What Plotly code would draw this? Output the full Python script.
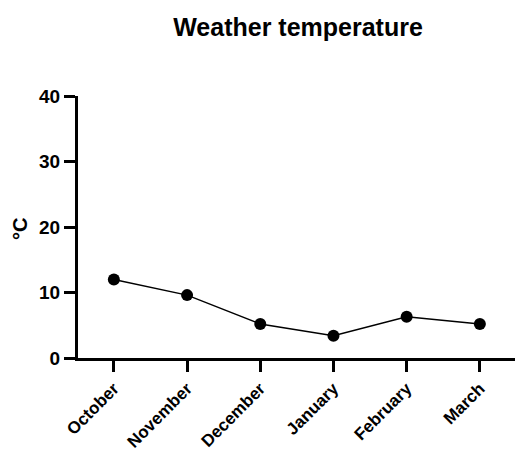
import plotly.graph_objects as go

months = ["October", "November", "December", "January", "February", "March"]
temps = [12.0, 9.6, 5.2, 3.4, 6.3, 5.2]
y_ticks = [0, 10, 20, 30, 40]

FONT = "Liberation Sans, Arial, sans-serif"
W, H = 515, 453
L, R, T, B = 78, 0, 96, 95

fig = go.Figure()
fig.add_trace(go.Scatter(
    x=list(range(len(months))), y=temps, mode="lines+markers",
    line=dict(color="black", width=1.5),
    marker=dict(color="black", size=12),
    showlegend=False, cliponaxis=False,
))

fig.update_layout(
    width=W, height=H,
    margin=dict(l=L, r=R, t=T, b=B, autoexpand=False),
    paper_bgcolor="white", plot_bgcolor="white",
    title=dict(text="Weather temperature", x=298 / W, xanchor="center",
               y=1 - 27 / H, yanchor="middle",
               font=dict(family=FONT, size=25, color="black", weight="bold")),
    font=dict(family=FONT, color="black"),
)
fig.update_xaxes(
    range=[-0.49, 5.48], tickmode="array", tickvals=list(range(len(months))), ticktext=months,
    tickangle=-45, ticks="outside", ticklen=11, tickwidth=3, tickcolor="black",
    showline=True, linewidth=3, linecolor="black", showgrid=False, zeroline=False,
    tickfont=dict(family=FONT, size=17, color="black", weight="bold"),
)
fig.update_yaxes(
    range=[0, 40], tickmode="array", tickvals=y_ticks, ticktext=[str(v) for v in y_ticks],
    ticks="outside", ticklen=11, tickwidth=3, tickcolor="black",
    showline=True, linewidth=3, linecolor="black", showgrid=False, zeroline=False,
    tickfont=dict(family=FONT, size=19, color="black", weight="bold"),
)
fig.add_annotation(
    text="°C", xref="paper", yref="paper", x=0, y=0.5, xshift=-58, yshift=-2,
    textangle=-90, showarrow=False, xanchor="center", yanchor="middle",
    font=dict(family=FONT, size=20, color="black", weight="bold"),
)

fig.write_html("out.html")
